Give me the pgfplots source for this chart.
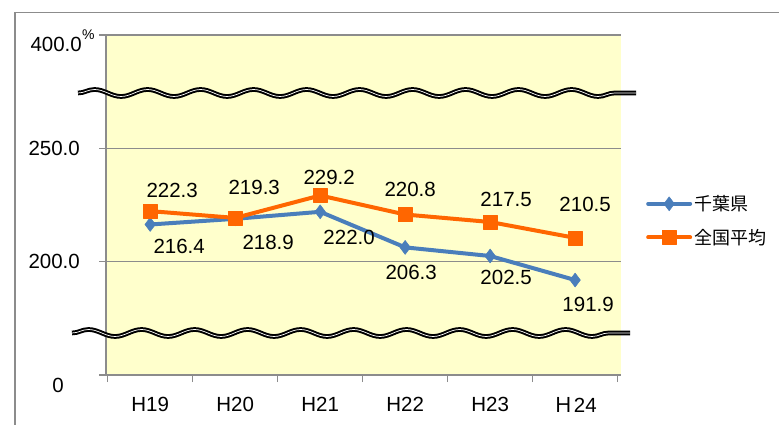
\documentclass[border=0pt]{standalone}
\usepackage{fontspec}
\setmainfont{Liberation Sans}
\newfontfamily\jp{Noto Sans CJK JP}
\usepackage{pgfplots}
\pgfplotsset{compat=1.18}
\usetikzlibrary{decorations.pathmorphing}
\definecolor{cblue}{HTML}{4A7EBB}
\definecolor{corange}{HTML}{FF6600}
\definecolor{bgyel}{HTML}{FFFFCC}
\definecolor{axgray}{HTML}{8C8C8C}
\newcommand{\numfont}{\fontsize{20.5bp}{24bp}\selectfont}
\begin{document}
\begin{tikzpicture}
\path[use as bounding box] (0bp,0bp) rectangle (779bp,425bp);
\draw[axgray, line width=1.5bp] (15bp,-5bp) -- (15bp,412.3bp) -- (790bp,412.3bp);
\begin{axis}[
  at={(106bp,50bp)}, anchor=south west,
  scale only axis, width=515bp, height=340bp,
  xmin=-0.52, xmax=5.54, ymin=150, ymax=300,
  clip=false,
  axis background/.style={fill=bgyel},
  axis x line*=bottom, axis y line*=left,
  axis line style={axgray, line width=1.5bp, -},
  ymajorgrids, grid style={axgray, line width=1.5bp},
  tick align=outside, major tick length=7bp,
  tick style={axgray, line width=1.5bp},
  ytick={150,200,250,300},
  yticklabels={,200.0,250.0,},
  xtick={-0.5,0.5,1.5,2.5,3.5,4.5,5.5},
  x tick label as interval,
  xticklabels={H19,H20,H21,H22,H23,{{\jp Ｈ}24}},
  ticklabel style={font=\numfont, inner sep=0pt},
  yticklabel style={anchor=east, xshift=-19bp},
  xticklabel style={anchor=north, yshift=-15bp},
  legend style={at={(1.0485,0.454)}, anchor=west, draw=none, fill=none,
    inner sep=0pt, font=\jp\fontsize{18bp}{20bp}\selectfont, row sep=13bp,
    nodes={inner sep=2bp}},
  legend cell align=left,
  legend image code/.code={
    \draw[#1, line width=4bp, line cap=round] (0bp,0bp) -- (42bp,0bp);
    \draw[mark repeat=2,mark phase=2,#1, line width=0.5bp] plot coordinates {(0bp,0bp) (21bp,0bp) (42bp,0bp)};
  },
]
\addplot[cblue, line width=4bp, mark=diamond*, mark size=7bp, mark options={solid, line width=0.5bp}, line join=round]
  coordinates {(0,216.4) (1,218.9) (2,222.0) (3,206.3) (4,202.5) (5,191.9)};
\addlegendentry{千葉県}
\addplot[corange, line width=4bp, mark=square*, mark size=7bp, mark options={solid, line width=0.5bp}, line join=round]
  coordinates {(0,222.3) (1,219.3) (2,229.2) (3,220.8) (4,217.5) (5,210.5)};
\addlegendentry{全国平均}
\begin{scope}[every node/.style={font=\numfont, inner sep=0pt}]
\node at (axis cs:0.259,231.4) {222.3};
\node at (axis cs:1.224,232.7) {219.3};
\node at (axis cs:2.106,237.2) {229.2};
\node at (axis cs:3.059,231.9) {220.8};
\node at (axis cs:4.188,227.4) {217.5};
\node at (axis cs:5.118,225.2) {210.5};
\node at (axis cs:0.341,206.6) {216.4};
\node at (axis cs:1.388,208.4) {218.9};
\node at (axis cs:2.341,210.6) {222.0};
\node at (axis cs:3.071,195.1) {206.3};
\node at (axis cs:4.188,192.9) {202.5};
\node at (axis cs:5.153,181.0) {191.9};
\end{scope}
\end{axis}
\node[font=\numfont, inner sep=0pt, anchor=east] at (82bp,381bp) {400.0};
\node[font=\fontsize{14bp}{16bp}\selectfont, inner sep=0pt, anchor=west] at (82bp,390bp) {\%};
\node[font=\numfont, inner sep=0pt] at (58bp,40bp) {0};
\draw[black, line width=2bp, double=white, double distance=0.7bp, decorate,
  decoration={snake, amplitude=3.5bp, segment length=53bp}] (78bp,332bp) -- (636bp,332bp);
\draw[black, line width=2bp, double=white, double distance=0.7bp, decorate,
  decoration={snake, amplitude=3.5bp, segment length=53bp}] (72bp,92bp) -- (630bp,92bp);
\end{tikzpicture}
\end{document}
